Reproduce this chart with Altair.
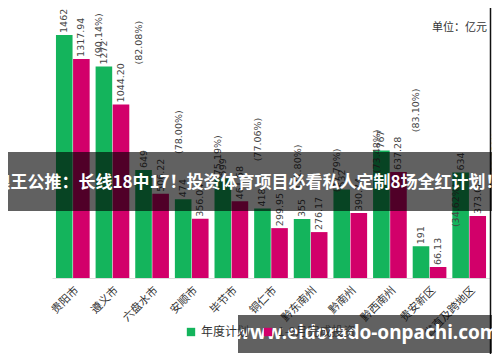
import altair as alt
import pandas as pd

cities = ["贵阳市", "遵义市", "六盘水市", "安顺市", "毕节市", "铜仁市",
          "黔东南州", "黔南州", "黔西南州", "贵安新区", "省直及跨地区"]
plan = [1462, 1272, 649, 474, 599, 418, 355, 532, 767, 191, 634]
done = [1317.94, 1044.20, 506.22, 356.04, 461.58, 299.95, 276.17, 390.74, 637.28, 66.13, 373.00]
pct = ["90.14", "82.08", "78.00", "75.19", "77.06", "71.80", "77.79", "73.48", "83.10", "34.62", "58.83"]
series = ["年度计划", "1-9月完成投资"]
colors = ["#14b45c", "#d2006a"]
unit_text = "单位：亿元"
banner_text = "狼王公推：长线18中17！投资体育项目必看私人定制8场全红计划！"
url_text = "www.eldorado-onpachi.com"

rows = []
for c, p, d, q in zip(cities, plan, done, pct):
    rows.append({"city": c, "series": series[0], "value": p, "label": f"{p}", "pct": ""})
    rows.append({"city": c, "series": series[1], "value": d, "label": f"{d:.2f}", "pct": f"({q}%)"})
df = pd.DataFrame(rows)

FONT = "Noto Sans CJK SC"

xenc = alt.X("city:N", sort=cities, title=None,
             scale=alt.Scale(paddingInner=0.15, paddingOuter=0.1),
             axis=alt.Axis(labelAngle=-45, labelFontSize=11, labelColor="#333",
                           labelFont=FONT, ticks=False, domainColor="#dddddd",
                           labelPadding=6))
xoff = alt.XOffset("series:N", sort=series, scale=alt.Scale(paddingInner=0.03))
yscale = alt.Scale(domain=[0, 1600])

base = alt.Chart(df).encode(
    x=xenc,
    xOffset=xoff,
    y=alt.Y("value:Q", title=None, scale=yscale,
            axis=alt.Axis(values=list(range(0, 1601, 200)), format="d", grid=False, ticks=False,
                          domain=False, labelFontSize=11, labelColor="#333",
                          labelFont=FONT, labelPadding=7)),
)

bars = base.mark_bar().encode(
    color=alt.Color("series:N", sort=series,
                    scale=alt.Scale(domain=series, range=colors),
                    legend=alt.Legend(title=None, orient="none", direction="horizontal",
                                      legendX=133, legendY=314, symbolType="square",
                                      symbolSize=70, labelFontSize=12, labelFont=FONT,
                                      labelColor="#333", columnPadding=12))
)

labels = base.mark_text(angle=270, align="left", baseline="middle", dx=2,
                        fontSize=9.5, color="#444", font="DejaVu Sans").encode(text="label:N")

pcts = alt.Chart(df).transform_filter(alt.datum.pct != "").transform_calculate(
    py="min(datum.value + 240, 1330)"
).mark_text(
    angle=270, align="left", baseline="middle", dy=18,
    fontSize=9.5, color="#444", font="DejaVu Sans").encode(
    x=xenc, xOffset=xoff,
    y=alt.Y("py:Q", scale=yscale, axis=None),
    text="pct:N")

unit = alt.Chart(pd.DataFrame({"t": [unit_text]})).mark_text(
    align="right", baseline="middle", fontSize=11, font=FONT, color="#333"
).encode(text="t:N", x=alt.value(435), y=alt.value(16))

border = alt.Chart(pd.DataFrame({"t": [0]})).mark_rule(color="#111", strokeWidth=1.5).encode(
    x=alt.value(438.5), y=alt.value(-12), y2=alt.value(360))

banner_rect = alt.Chart(pd.DataFrame({"t": [0]})).mark_rect(color="#000", opacity=0.62).encode(
    x=alt.value(-44), x2=alt.value(440), y=alt.value(140), y2=alt.value(199))

banner = alt.Chart(pd.DataFrame({"t": [banner_text]})).mark_text(
    align="center", baseline="middle", fontSize=17, fontWeight="bold", font=FONT, color="white"
).encode(text="t:N", x=alt.value(196), y=alt.value(171))

url_rect = alt.Chart(pd.DataFrame({"t": [0]})).mark_rect(color="#000", opacity=0.62).encode(
    x=alt.value(186), x2=alt.value(440), y=alt.value(303), y2=alt.value(341))

url = alt.Chart(pd.DataFrame({"t": [url_text]})).mark_text(
    align="center", baseline="middle", fontSize=19, fontWeight="bold", font="Noto Sans", color="white"
).encode(text="t:N", x=alt.value(314), y=alt.value(321))

chart = alt.layer(bars, labels, pcts, unit, border, banner_rect, banner, url_rect, url).properties(
    width=438, height=266,
    autosize=alt.AutoSizeParams(type="none"),
    padding={"left": 44, "top": 4, "right": 2, "bottom": 76},
).configure_view(stroke=None)

chart.save("out.html", embed_options={"renderer": "svg", "actions": False})
